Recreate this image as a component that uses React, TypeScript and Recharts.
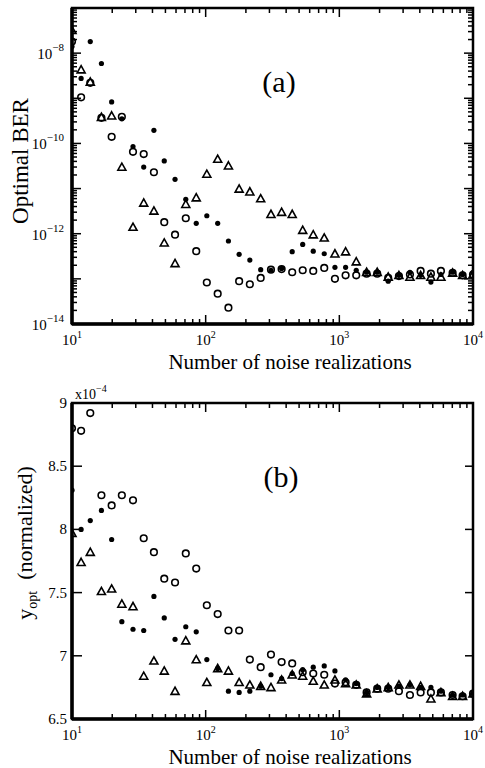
import React from "react";
import { ScatterChart, Scatter, XAxis, YAxis, ReferenceArea } from "recharts";

// number of noise realizations (shared by all series)
const realizations = [
  10, 11.7, 13.7, 16.6, 19.8, 23.6, 28.6, 34.4, 41, 49, 59, 71, 85, 102, 123,
  148, 178, 214, 258, 308, 370, 444, 532, 638, 771, 927, 1114, 1338, 1600,
  1920, 2321, 2791, 3374, 4057, 4843, 5754, 7038, 8360, 10000,
];

// panel (a): optimal BER
const berFilled = [
  1.4e-8, 2.75e-9, 1.8e-8, 5.9e-9, 8.3e-10, 3.5e-10, 8.5e-11, 3.0e-11, 1.95e-10, 4.1e-11,
  1.6e-11, 5.8e-12, 1.7e-12, 2.5e-12, 1.7e-12, 6.9e-13, 3.5e-13, 2.6e-13, 1.6e-13, 1.55e-13,
  1.7e-13, 4.0e-13, 5.8e-13, 4.1e-13, 3.6e-13, 1.8e-13, 1.8e-13, 1.55e-13, 1.4e-13, 1.4e-13,
  8.9e-14, 1.2e-13, 1.4e-13, 1.2e-13, 8.5e-14, 1.25e-13, 1.4e-13, 1.25e-13, 1.4e-13,
];
const berOpen = [
  1.8e-8, 1.05e-9, 2.2e-9, 3.7e-10, 1.4e-10, 3.9e-10, 6.5e-11, 5.8e-11, 2.3e-11, 1.8e-12,
  9.5e-13, 2.2e-12, 4.1e-13, 8.3e-14, 4.7e-14, 2.3e-14, 8.9e-14, 7.6e-14, 1.05e-13, 1.6e-13,
  1.65e-13, 1.4e-13, 1.55e-13, 1.5e-13, 1.75e-13, 1.0e-13, 1.2e-13, 1.2e-13, 1.3e-13, 1.3e-13,
  1.05e-13, 1.15e-13, 1.25e-13, 1.5e-13, 1.3e-13, 1.5e-13, 1.35e-13, 1.2e-13, 1.25e-13,
];
const berTriangle = [
  3.2e-8, 4.3e-9, 2.3e-9, 3.8e-10, 4.1e-10, 3.0e-11, 1.4e-12, 4.8e-12, 3.2e-12, 6.3e-13,
  2.2e-13, 4.5e-12, 6.3e-12, 2.1e-11, 4.5e-11, 3.2e-11, 9.8e-12, 8.5e-12, 6.0e-12, 2.7e-12,
  3.0e-12, 2.7e-12, 1.2e-12, 9.5e-13, 8.1e-13, 3.6e-13, 4.0e-13, 2.4e-13, 1.4e-13, 1.4e-13,
  1.1e-13, 1.2e-13, 1.1e-13, 1.2e-13, 1.1e-13, 1.1e-13, 1.35e-13, 1.2e-13, 1.25e-13,
];

// panel (b): y_opt, in units of 1e-4
const yoptFilled = [
  8.31, 8.0, 8.07, 8.15, 7.92, 7.27, 7.21, 7.2, 7.47, 7.3,
  7.13, 7.23, 7.19, 6.97, 6.9, 6.72, 6.71, 6.72, 6.76, 6.85,
  6.82, 6.86, 6.89, 6.91, 6.92, 6.88, 6.81, 6.78, 6.71, 6.75,
  6.75, 6.76, 6.77, 6.75, 6.75, 6.72, 6.69, 6.69, 6.7,
];
const yoptOpen = [
  8.8, 8.78, 8.92, 8.27, 8.19, 8.27, 8.23, 7.93, 7.82, 7.61,
  7.58, 7.81, 7.69, 7.4, 7.33, 7.2, 7.2, 6.97, 6.91, 7.01,
  6.95, 6.94, 6.87, 6.86, 6.85, 6.78, 6.79, 6.77, 6.71, 6.74,
  6.74, 6.72, 6.69, 6.71, 6.71, 6.71, 6.69, 6.68, 6.7,
];
const yoptTriangle = [
  7.97, 7.74, 7.82, 7.51, 7.53, 7.41, 7.39, 6.84, 6.96, 6.88,
  6.72, 7.12, 6.97, 6.79, 6.9, 6.88, 6.79, 6.77, 6.76, 6.75,
  6.81, 6.85, 6.84, 6.8, 6.77, 6.81, 6.78, 6.77, 6.7, 6.74,
  6.75, 6.77, 6.77, 6.76, 6.66, 6.71, 6.68, 6.68, 6.7,
];

// axis ticks
const xDecades = [10, 100, 1000, 10000];
const berDecades = [1e-14, 1e-13, 1e-12, 1e-11, 1e-10, 1e-9, 1e-8, 1e-7];
const berLabelled = [1e-14, 1e-12, 1e-10, 1e-8];
const yoptTicks = [6.5, 7, 7.5, 8, 8.5, 9];
const minorSteps = [2, 3, 4, 5, 6, 7, 8, 9];

const FONT = '"Liberation Serif", "Times New Roman", serif';
const PLOT_LEFT = 72;
const PLOT_RIGHT = 473;

function logTicks(decades: number[]) {
  const out: number[] = [];
  decades.forEach((d, i) => {
    out.push(d);
    if (i < decades.length - 1) minorSteps.forEach((m) => out.push(d * m));
  });
  return out;
}
const isDecade = (v: number) =>
  Math.abs(Math.log10(v) - Math.round(Math.log10(v))) < 1e-6;

const toPoints = (ys: number[]) => realizations.map((n, i) => ({ n, v: ys[i] }));

// markers
const FilledDot = (p: any) => <circle cx={p.cx} cy={p.cy} r={2.6} fill="#000" />;
const OpenDot = (p: any) => (
  <circle cx={p.cx} cy={p.cy} r={3.3} fill="none" stroke="#000" strokeWidth={1.6} />
);
const Triangle = (p: any) => {
  const { cx, cy } = p;
  const s = 4;
  return (
    <path
      d={`M${cx},${cy - s} L${cx + s},${cy + s * 0.8} L${cx - s},${cy + s * 0.8} Z`}
      fill="none"
      stroke="#000"
      strokeWidth={1.6}
    />
  );
};

// bottom tick + mirrored top tick, inward
const makeXTick = (top: number) => (props: any) => {
  const { x, y, payload } = props;
  const v = payload.value;
  const major = isDecade(v);
  const len = major ? 9 : 5;
  return (
    <g>
      <line x1={x} y1={y} x2={x} y2={y - len} stroke="#000" strokeWidth={1.5} />
      <line x1={x} y1={top} x2={x} y2={top + len} stroke="#000" strokeWidth={1.5} />
      {major && (
        <text x={x} y={y + 21} textAnchor="middle" fontSize={15} fontFamily={FONT} fill="#000">
          10
          <tspan dy={-7} fontSize={10}>
            {Math.round(Math.log10(v))}
          </tspan>
        </text>
      )}
    </g>
  );
};

const BerTick = (props: any) => {
  const { x, y, payload } = props;
  const v = payload.value;
  const major = isDecade(v);
  const len = major ? 9 : 5;
  const e = Math.round(Math.log10(v));
  const labelled = berLabelled.some((l) => Math.abs(l - v) / l < 1e-6);
  return (
    <g>
      <line x1={x} y1={y} x2={x + len} y2={y} stroke="#000" strokeWidth={1.5} />
      <line x1={PLOT_RIGHT} y1={y} x2={PLOT_RIGHT - len} y2={y} stroke="#000" strokeWidth={1.5} />
      {labelled && (
        <text x={x - 8} y={y + 6} textAnchor="end" fontSize={15} fontFamily={FONT} fill="#000">
          10
          <tspan dy={-8} fontSize={11}>
            {`\u2212${-e}`}
          </tspan>
        </text>
      )}
    </g>
  );
};

const YoptTick = (props: any) => {
  const { x, y, payload } = props;
  return (
    <g>
      <line x1={x} y1={y} x2={x + 10} y2={y} stroke="#000" strokeWidth={1.5} />
      <line x1={PLOT_RIGHT} y1={y} x2={PLOT_RIGHT - 8} y2={y} stroke="#000" strokeWidth={1.5} />
      <text x={x - 5} y={y + 5} textAnchor="end" fontSize={15} fontFamily={FONT} fill="#000">
        {payload.value}
      </text>
    </g>
  );
};

const xTicks = logTicks(xDecades);
const berTicks = logTicks(berDecades);

const axisLine = { stroke: "#000", strokeWidth: 3.5 };

function BerPanel() {
  return (
    <ScatterChart width={485} height={384} margin={{ top: 8, right: 485 - PLOT_RIGHT, bottom: 59, left: PLOT_LEFT - 1 }}>
      <ReferenceArea x1={10} x2={10000} y1={1e-14} y2={1e-7} fill="none" stroke="#000" strokeWidth={2.5} />
      <XAxis
        type="number"
        dataKey="n"
        scale="log"
        domain={[10, 10000]}
        ticks={xTicks}
        interval={0}
        height={1}
        tickSize={0}
        tickMargin={0}
        tick={makeXTick(8)}
        axisLine={axisLine}
        allowDataOverflow
      />
      <YAxis
        type="number"
        dataKey="v"
        scale="log"
        domain={[1e-14, 1e-7]}
        ticks={berTicks}
        interval={0}
        width={1}
        tickSize={0}
        tickMargin={0}
        tick={BerTick}
        axisLine={axisLine}
        allowDataOverflow
      />
      <Scatter data={toPoints(berTriangle)} shape={Triangle} isAnimationActive={false} />
      <Scatter data={toPoints(berOpen)} shape={OpenDot} isAnimationActive={false} />
      <Scatter data={toPoints(berFilled)} shape={FilledDot} isAnimationActive={false} />
    </ScatterChart>
  );
}

function YoptPanel() {
  return (
    <ScatterChart width={485} height={384} margin={{ top: 19, right: 485 - PLOT_RIGHT, bottom: 48, left: PLOT_LEFT - 1 }}>
      <ReferenceArea x1={10} x2={10000} y1={6.5} y2={9} fill="none" stroke="#000" strokeWidth={2.5} />
      <XAxis
        type="number"
        dataKey="n"
        scale="log"
        domain={[10, 10000]}
        ticks={xTicks}
        interval={0}
        height={1}
        tickSize={0}
        tickMargin={0}
        tick={makeXTick(19)}
        axisLine={axisLine}
        allowDataOverflow
      />
      <YAxis
        type="number"
        dataKey="v"
        domain={[6.5, 9]}
        ticks={yoptTicks}
        interval={0}
        width={1}
        tickSize={0}
        tickMargin={0}
        tick={YoptTick}
        axisLine={axisLine}
        allowDataOverflow
      />
      <Scatter data={toPoints(yoptTriangle)} shape={Triangle} isAnimationActive={false} />
      <Scatter data={toPoints(yoptOpen)} shape={OpenDot} isAnimationActive={false} />
      <Scatter data={toPoints(yoptFilled)} shape={FilledDot} isAnimationActive={false} />
    </ScatterChart>
  );
}

export default function App() {
  return (
    <div style={{ position: "absolute", left: 0, top: 0, width: 485, height: 768, background: "#fff", fontFamily: FONT }}>
      <div style={{ position: "absolute", left: 0, top: 0 }}>
        <BerPanel />
      </div>
      <div style={{ position: "absolute", left: 0, top: 384 }}>
        <YoptPanel />
      </div>
      <svg
        width={485}
        height={768}
        style={{ position: "absolute", left: 0, top: 0, pointerEvents: "none" }}
        fontFamily={FONT}
        fill="#000"
      >
        <text x={279} y={92} textAnchor="middle" fontSize={30}>(a)</text>
        <text x={281} y={487} textAnchor="middle" fontSize={30}>(b)</text>
        <text x={290} y={369} textAnchor="middle" fontSize={21}>Number of noise realizations</text>
        <text x={290} y={764} textAnchor="middle" fontSize={21}>Number of noise realizations</text>
        <text transform="translate(28,161) rotate(-90)" textAnchor="middle" fontSize={23}>
          Optimal BER
        </text>
        <text transform="translate(32,543) rotate(-90)" textAnchor="middle" fontSize={22}>
          y
          <tspan dy={5} fontSize={14}>opt</tspan>
          <tspan dy={-5}>{"\u00a0\u00a0(normalized)"}</tspan>
        </text>
        <text x={75} y={399} fontSize={14}>
          x10
          <tspan dy={-7} fontSize={10}>{"\u22124"}</tspan>
        </text>
      </svg>
    </div>
  );
}
